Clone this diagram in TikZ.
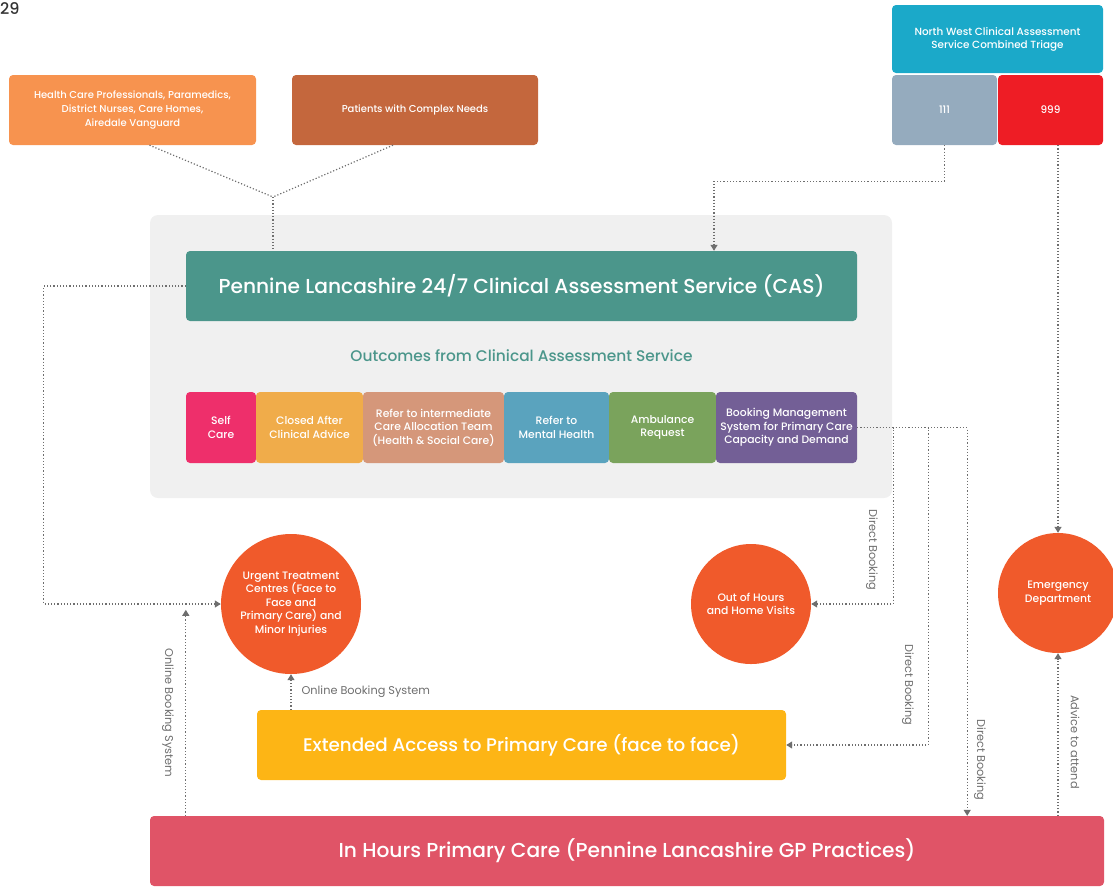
\documentclass[tikz,border=0pt]{standalone}
\usepackage{fontspec}
\setmainfont{Poppins}[BoldFont={Poppins Medium}]
\usetikzlibrary{arrows.meta,positioning,calc}

\definecolor{hcpc}{HTML}{F7934F}
\definecolor{patc}{HTML}{C4673D}
\definecolor{nwc}{HTML}{1BA9C9}
\definecolor{oneonec}{HTML}{95ABBE}
\definecolor{ninec}{HTML}{EE1D25}
\definecolor{casc}{HTML}{4B968B}
\definecolor{panelc}{HTML}{F0F0F0}
\definecolor{selfc}{HTML}{EE2F6B}
\definecolor{closedc}{HTML}{F0AC4A}
\definecolor{referc}{HTML}{D5977A}
\definecolor{mentalc}{HTML}{5AA3BE}
\definecolor{ambc}{HTML}{7AA35C}
\definecolor{bookc}{HTML}{735F96}
\definecolor{circc}{HTML}{F05A2B}
\definecolor{extc}{HTML}{FDB515}
\definecolor{ihpcc}{HTML}{E05467}
\definecolor{linkc}{HTML}{6E6E6E}

\tikzset{
  box/.style={rounded corners=4pt,text=white,align=center,inner sep=0pt},
  outbox/.style={box,minimum height=71pt,font=\fontsize{10.8}{13.5}\selectfont\bfseries},
  circ/.style={circle,fill=circc,text=white,align=center,inner sep=0pt,font=\fontsize{10.8}{13.4}\selectfont\bfseries},
  link/.style={draw=linkc,dotted,line width=1.2pt},
  tip/.style={link,-{Triangle[width=7pt,length=6pt]}},
  lbl/.style={text=linkc,font=\fontsize{11.3}{13}\selectfont,inner sep=0pt}
}

\begin{document}
\begin{tikzpicture}[x=1pt,y=-1pt]
\useasboundingbox (0,0) rectangle (1113,887);

\node[text=black!80,font=\fontsize{16}{16}\selectfont\bfseries,anchor=west,inner sep=0pt] (pagenum) at (0,9) {29};

% sources
\node[box,fill=hcpc,minimum width=247pt,minimum height=70pt,font=\fontsize{10}{14}\selectfont\bfseries] (hcp) at (132.5,110) {Health Care Professionals, Paramedics,\\District Nurses, Care Homes,\\Airedale Vanguard};
\node[box,fill=patc,minimum width=246pt,minimum height=70pt,font=\fontsize{10}{14}\selectfont\bfseries] (pat) at (415,110) {Patients with Complex Needs};

\node[box,fill=nwc,minimum width=211pt,minimum height=68pt,font=\fontsize{10.4}{13}\selectfont\bfseries] (nw) at (997.5,39) {North West Clinical Assessment\\Service Combined Triage};
\node[box,fill=oneonec,minimum width=105pt,minimum height=70pt,font=\fontsize{10.4}{13}\selectfont\bfseries] (ones) at (944.5,110) {111};
\node[box,fill=ninec,minimum width=105pt,minimum height=70pt,font=\fontsize{10.4}{13}\selectfont\bfseries] (nines) at (1050.5,110) {999};

% grey panel
\fill[panelc,rounded corners=8pt] (150,215) rectangle (892,498);

\node[box,fill=casc,minimum width=671pt,minimum height=70pt,font=\fontsize{20.2}{22}\selectfont\bfseries] (cas) at (521.5,286) {Pennine Lancashire 24/7 Clinical Assessment Service (CAS)};
\node[text=casc,font=\fontsize{15.4}{17}\selectfont\bfseries] (outc) at (521.5,356) {Outcomes from Clinical Assessment Service};

% outcomes
\node[outbox,fill=selfc,minimum width=70pt] (self) at (221,427.5) {Self\\Care};
\node[outbox,fill=closedc,minimum width=107pt] (closed) at (309.5,427.5) {Closed After\\Clinical Advice};
\node[outbox,fill=referc,minimum width=141pt] (refer) at (433.5,427.5) {Refer to intermediate\\Care Allocation Team\\(Health \& Social Care)};
\node[outbox,fill=mentalc,minimum width=105pt] (mental) at (556.5,427.5) {Refer to\\Mental Health};
\node[outbox,fill=ambc,minimum width=107pt] (amb) at (662.5,427.5) {Ambulance\\Request};
\node[outbox,fill=bookc,minimum width=141pt] (bm) at (786.5,427.5) {Booking Management\\System for Primary Care\\Capacity and Demand};

% services
\node[circ,minimum size=140pt] (utc) at (291,604) {Urgent Treatment\\Centres (Face to\\Face and\\Primary Care) and\\Minor Injuries};
\node[circ,minimum size=120pt] (ooh) at (751,604) {Out of Hours\\and Home Visits};
\node[circ,minimum size=120pt] (ed) at (1058,593) {Emergency\\Department};

\node[box,fill=extc,minimum width=529pt,minimum height=70pt,font=\fontsize{18.3}{20}\selectfont\bfseries] (ext) at (521.5,745) {Extended Access to Primary Care (face to face)};
\node[box,fill=ihpcc,minimum width=954pt,minimum height=70pt,font=\fontsize{20.2}{22}\selectfont\bfseries] (ihpc) at (627,851) {In Hours Primary Care (Pennine Lancashire GP Practices)};

% connectors
\coordinate (join) at (273,197);
\draw[link] ([xshift=17pt]hcp.south) -- (join);
\draw[link] ([xshift=-22pt]pat.south) -- (join);
\draw[link] (join) -- (join |- cas.north);

\draw[tip] (ones.south) -- ++(0,36) -| ([xshift=192.5pt]cas.north);
\draw[tip] (ed.north |- nines.south) -- (ed.north);

\draw[tip] (cas.west) -- ++(-142,0) |- (utc.west);
\draw[tip] ([xshift=36pt]ihpc.north west) -- ++(0,-206);
\draw[tip] (utc.south |- ext.north) -- (utc.south) node[lbl,midway,right=10pt] (obs) {Online Booking System};

\draw[tip] (bm.east) -| ([xshift=-137pt]ihpc.north east);
\draw[tip] (bm.east) -| ++(36,176.5) -- (ooh.east);
\draw[tip] (bm.east) -| ++(71,317.5) -- (ext.east);
\draw[tip] (ed.south |- ihpc.north) -- (ed.south);

% rotated labels
\node[lbl,rotate=-90] (obs2) at (168,713) {Online Booking System};
\node[lbl,rotate=-90] (db1) at (872,550) {Direct Booking};
\node[lbl,rotate=-90] (db2) at (908,685) {Direct Booking};
\node[lbl,rotate=-90] (db3) at (980,760) {Direct Booking};
\node[lbl,rotate=-90] (adv) at (1075,742) {Advice to attend};
\end{tikzpicture}
\end{document}
